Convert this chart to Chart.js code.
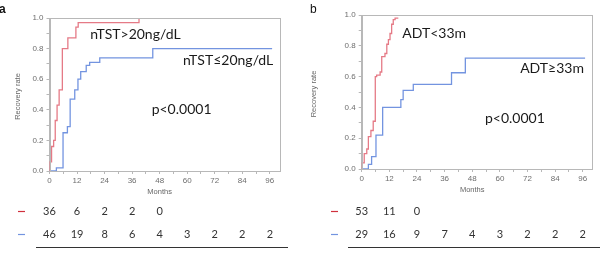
<!DOCTYPE html>
<html>
<head>
<meta charset="utf-8">
<script src="https://cdn.jsdelivr.net/npm/chart.js@4"></script>
<style>
  html, body { margin: 0; padding: 0; background: #fff; }
  #wrap { position: relative; width: 600px; height: 254px; overflow: hidden; }
  canvas { position: absolute; top: 0; }
  #cA { left: 0; }
  #cB { left: 300px; }
</style>
</head>
<body>
<div id="wrap">
  <canvas id="cA" width="300" height="254"></canvas>
  <canvas id="cB" width="300" height="254"></canvas>
</div>
<script>
// axis ticks (months), labelled every 12
const monthTicks = [0, 6, 12, 18, 24, 30, 36, 42, 48, 54, 60, 66, 72, 78, 84, 90, 96];
const riskMonths = [0, 12, 24, 36, 48, 60, 72, 84, 96];

// panel a — nTST > 20 / <= 20 ng/dL
const aHighT = [0, 0, 0.9, 1.8, 2.5, 3.3, 4.2, 5.6, 8, 11.5, 12.5, 39];
const aHighS = [0, 0.06, 0.16, 0.2, 0.33, 0.43, 0.53, 0.8, 0.87, 0.94, 0.97, 1.0];
const aLowT = [0, 3, 5.9, 7.8, 9, 11, 12.4, 13.6, 16, 17.5, 21.9, 45, 97];
const aLowS = [0, 0.02, 0.25, 0.29, 0.47, 0.53, 0.6, 0.65, 0.69, 0.71, 0.74, 0.8, 0.8];
const riskAHigh = [36, 6, 2, 2, 0];
const riskALow = [46, 19, 8, 6, 4, 3, 2, 2, 2];

// panel b — ADT < 33m / >= 33m
const bShortT = [0, 0, 1.1, 2.2, 2.9, 4.0, 5.0, 5.9, 6.5, 8.0, 8.7, 10.1, 10.9, 11.6, 12.3, 13.0, 13.7, 14.5, 15.9];
const bShortS = [0, 0.04, 0.10, 0.13, 0.21, 0.25, 0.31, 0.60, 0.61, 0.63, 0.73, 0.75, 0.81, 0.84, 0.88, 0.94, 0.97, 0.98, 0.98];
const bLongT = [0, 2.9, 4.3, 6.2, 9.1, 17.0, 18.0, 22.4, 39, 45, 97];
const bLongS = [0, 0.03, 0.08, 0.22, 0.40, 0.45, 0.51, 0.55, 0.625, 0.72, 0.72];
const riskBShort = [53, 11, 0];
const riskBLong = [29, 16, 9, 7, 4, 3, 2, 2, 2];

const RED = '#e57a86';
const BLUE = '#7394e0';
const FRAME = '#b8b8b8';
const TICK = '#6e6e6e';

const pts = (ts, ss) => ts.map((t, i) => ({ x: t, y: ss[i] }));

function panelPlugin(p) {
  return {
    id: 'panel' + p.tag,
    afterDraw(chart) {
      const ctx = chart.ctx, a = chart.chartArea;
      const xs = chart.scales.x, ys = chart.scales.y;
      ctx.save();
      // frame
      ctx.strokeStyle = FRAME; ctx.lineWidth = 1;
      ctx.strokeRect(Math.round(a.left) + 0.5, Math.round(a.top) + 0.5,
                     Math.round(a.right - a.left), Math.round(a.bottom - a.top));
      // axis titles
      ctx.fillStyle = '#666';
      ctx.font = '7.5px "Liberation Sans"';
      ctx.textAlign = 'center'; ctx.textBaseline = 'middle';
      ctx.fillText('Months', (xs.getPixelForValue(48)), a.bottom + 21);
      ctx.save();
      ctx.translate(p.yTitleX, (a.top + a.bottom) / 2 + 2);
      ctx.rotate(-Math.PI / 2);
      ctx.fillText('Recovery rate', 0, 0);
      ctx.restore();
      // panel letter
      ctx.fillStyle = '#111';
      ctx.textAlign = 'left';
      ctx.font = p.letterFont;
      ctx.fillText(p.tag, p.letterX, 10);
      // annotations
      ctx.fillStyle = '#1a1a1a';
      ctx.font = '14px Lato';
      p.notes.forEach(n => {
        ctx.textAlign = n.align;
        ctx.fillText(n.text, xs.getPixelForValue(n.x), ys.getPixelForValue(n.y));
      });
      // number at risk
      ctx.font = '11px Lato';
      ctx.textAlign = 'center';
      p.risk.forEach(r => {
        ctx.strokeStyle = r.color; ctx.lineWidth = 1.2;
        ctx.beginPath();
        ctx.moveTo(p.dashX, r.y + 0.5); ctx.lineTo(p.dashX + 7, r.y + 0.5);
        ctx.stroke();
        ctx.fillStyle = '#333';
        r.vals.forEach((v, i) => {
          ctx.fillText(String(v), xs.getPixelForValue(riskMonths[i]), r.y);
        });
      });
      ctx.strokeStyle = '#333'; ctx.lineWidth = 1;
      ctx.beginPath();
      ctx.moveTo(p.ruleX[0], 247.5); ctx.lineTo(p.ruleX[1], 247.5);
      ctx.stroke();
      ctx.restore();
    }
  };
}

function makePanel(canvas, p) {
  return new Chart(canvas.getContext('2d'), {
    type: 'line',
    data: {
      datasets: [
        { data: pts(p.t1, p.s1), borderColor: RED, borderWidth: 1.3, stepped: true, pointRadius: 0, fill: false },
        { data: pts(p.t2, p.s2), borderColor: BLUE, borderWidth: 1.3, stepped: true, pointRadius: 0, fill: false }
      ]
    },
    options: {
      responsive: false,
      animation: false,
      layout: { padding: { left: 0, right: p.padRight, top: p.top, bottom: 0 } },
      plugins: { legend: { display: false }, tooltip: { enabled: false } },
      scales: {
        x: {
          type: 'linear', min: 0, max: 100,
          afterBuildTicks: s => { s.ticks = monthTicks.map(v => ({ value: v })); },
          afterFit: s => { s.height = 254 - p.bottom; },
          border: { color: FRAME },
          grid: { drawOnChartArea: false, tickLength: 3, color: FRAME },
          ticks: {
            autoSkip: false, maxRotation: 0, padding: 2, color: TICK,
            font: { family: 'Liberation Sans', size: 8 },
            callback: v => (v % 12 === 0 ? String(v) : '')
          }
        },
        y: {
          min: 0, max: 1,
          ticks: {
            stepSize: 0.1, padding: 3, color: TICK,
            font: { family: 'Liberation Sans', size: 8 },
            callback: v => (Math.round(v * 10) % 2 === 0 ? v.toFixed(1) : '')
          },
          afterFit: s => { s.width = p.left; },
          border: { color: FRAME },
          grid: { drawOnChartArea: false, tickLength: 3, color: FRAME }
        }
      }
    },
    plugins: [panelPlugin(p)]
  });
}

makePanel(document.getElementById('cA'), {
  tag: 'a', letterFont: 'bold 12px "Liberation Sans"', letterX: -1,
  left: 49.5, padRight: 21, top: 18, bottom: 171, yTitleX: 18,
  t1: aHighT, s1: aHighS, t2: aLowT, s2: aLowS,
  notes: [
    { text: 'nTST>20ng/dL', x: 17.8, y: 0.89, align: 'left' },
    { text: 'nTST\u226420ng/dL', x: 97.5, y: 0.72, align: 'right' },
    { text: 'p<0.0001', x: 44.5, y: 0.405, align: 'left' }
  ],
  risk: [
    { color: '#d0303c', y: 211, vals: riskAHigh },
    { color: BLUE, y: 234, vals: riskALow }
  ],
  dashX: 18, ruleX: [36, 288]
});

makePanel(document.getElementById('cB'), {
  tag: 'b', letterFont: '12px "Liberation Sans"', letterX: 10,
  left: 61.7, padRight: 8, top: 15, bottom: 169, yTitleX: 14,
  t1: bShortT, s1: bShortS, t2: bLongT, s2: bLongS,
  notes: [
    { text: 'ADT<33m', x: 17.6, y: 0.88, align: 'left' },
    { text: 'ADT\u226533m', x: 96.5, y: 0.65, align: 'right' },
    { text: 'p<0.0001', x: 53.5, y: 0.33, align: 'left' }
  ],
  risk: [
    { color: '#d0303c', y: 211, vals: riskBShort },
    { color: BLUE, y: 234, vals: riskBLong }
  ],
  dashX: 31, ruleX: [48, 300]
});
</script>
</body>
</html>
